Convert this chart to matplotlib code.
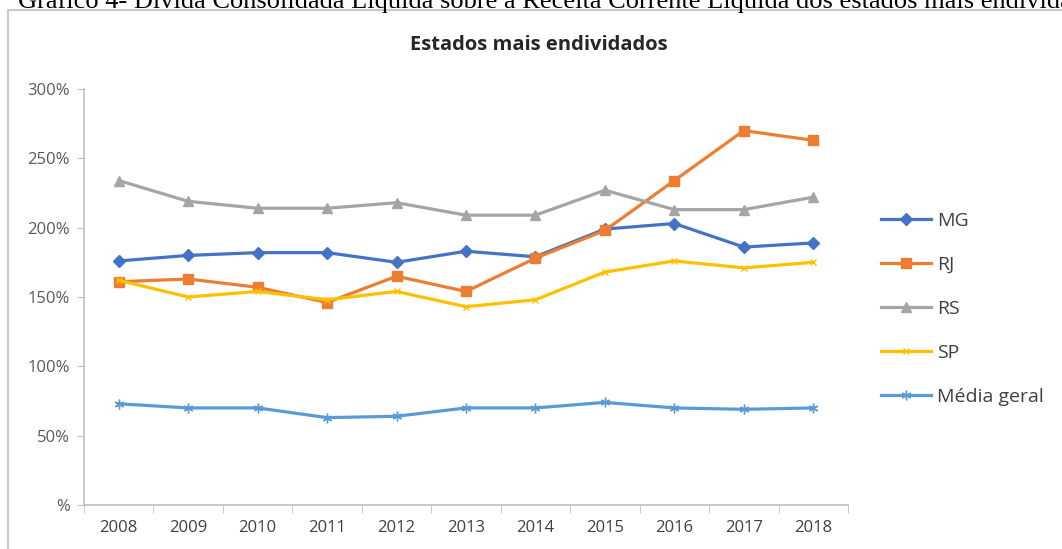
import matplotlib.pyplot as plt
from matplotlib.patches import Rectangle
import numpy as np

anos = ["2008", "2009", "2010", "2011", "2012", "2013",
        "2014", "2015", "2016", "2017", "2018"]

mg    = [176, 180, 182, 182, 175, 183, 179, 199, 203, 186, 189]
rj    = [161, 163, 157, 146, 165, 154, 178, 198, 234, 270, 263]
rs    = [234, 219, 214, 214, 218, 209, 209, 227, 213, 213, 222]
sp    = [162, 150, 154, 148, 154, 143, 148, 168, 176, 171, 175]
media = [73, 70, 70, 63, 64, 70, 70, 74, 70, 69, 70]

y_ticks  = [0, 50, 100, 150, 200, 250, 300]
y_labels = ["%", "50%", "100%", "150%", "200%", "250%", "300%"]

plt.rcParams["font.family"] = ["Open Sans", "DejaVu Sans"]

fig = plt.figure(figsize=(10.62, 5.49), dpi=100)
W, H = 1062, 549

# moldura do gráfico (Excel)
fig.patches.append(Rectangle((8 / W, -0.1), 1.2, 1 - 10 / H + 0.1,
                             transform=fig.transFigure, fill=False,
                             edgecolor="#c8c8c8", linewidth=1.5))

# legenda do documento (cortada no topo, como na imagem original)
fig.text(18 / W, 1 - 8 / H, "Gráfico 4- Dívida Consolidada Líquida sobre a "
         "Receita Corrente Líquida dos estados mais endividados",
         family="Liberation Serif", fontsize=19, va="baseline", ha="left")

ax = fig.add_axes([84 / W, 1 - 505 / H, (848 - 84) / W, (505 - 89) / H])
x = np.arange(len(anos))

series = [
    ("MG", mg, "#4472C4", "D", 6),
    ("RJ", rj, "#ED7D31", "s", 7),
    ("RS", rs, "#A5A5A5", "^", 7),
    ("SP", sp, "#FFC000", "x", 5),
    ("Média geral", media, "#5B9BD5", (6, 2, 0), 7),
]
for nome, vals, cor, mk, ms in series:
    ax.plot(x, vals, color=cor, linewidth=2.3, marker=mk, markersize=ms,
            markeredgecolor=cor, markerfacecolor=cor, label=nome)

ax.set_xlim(-0.5, len(anos) - 0.5)
ax.set_ylim(0, 300)
ax.set_yticks(y_ticks)
ax.set_yticklabels(y_labels, fontsize=12, color="#595959")
ax.set_xticks(x)
ax.set_xticklabels(anos, fontsize=12, color="#404040")
ax.tick_params(axis="x", length=0, pad=11)
ax.set_xticks(np.arange(-0.5, len(anos)), minor=True)
ax.tick_params(axis="x", which="minor", length=6, color="#bfbfbf")
ax.tick_params(axis="y", length=5, color="#bfbfbf", pad=5)

for s in ["top", "right"]:
    ax.spines[s].set_visible(False)
for s in ["left", "bottom"]:
    ax.spines[s].set_color("#bfbfbf")
    ax.spines[s].set_linewidth(1.2)

fig.text(539 / W, 1 - 45 / H, "Estados mais endividados", fontsize=14.5,
         fontweight="bold", color="#262626", ha="center", va="center")

ax.legend(loc="center left", bbox_to_anchor=(863 / W, 1 - 309 / H),
          bbox_transform=fig.transFigure, frameon=False, fontsize=14,
          handlelength=2.6, handletextpad=0.3, labelspacing=1.33,
          labelcolor="#404040")

fig.savefig("out.png", dpi=100)
